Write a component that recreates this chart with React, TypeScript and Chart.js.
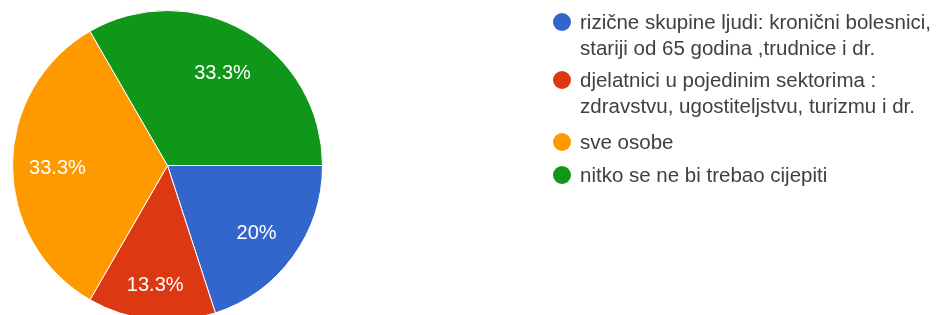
import React, { useEffect, useRef } from "react";
import { Chart, registerables } from "chart.js";

Chart.register(...registerables);

const categories: string[][] = [
  ["rizične skupine ljudi: kronični bolesnici,", "stariji od 65 godina ,trudnice i dr."],
  ["djelatnici u pojedinim sektorima :", "zdravstvu, ugostiteljstvu, turizmu i dr."],
  ["sve osobe"],
  ["nitko se ne bi trebao cijepiti"],
];
const values: number[] = [3, 2, 5, 5];
const sliceLabels: string[] = ["20%", "13.3%", "33.3%", "33.3%"];
const colors: string[] = ["#3366cc", "#dc3912", "#ff9900", "#109618"];

const labelPlugin = {
  id: "sliceLabels",
  afterDatasetsDraw(chart: any) {
    const ctx = chart.ctx;
    const meta = chart.getDatasetMeta(0);
    ctx.save();
    ctx.font = "20px 'Liberation Sans', Arial, sans-serif";
    ctx.fillStyle = "#ffffff";
    ctx.textAlign = "center";
    ctx.textBaseline = "middle";
    meta.data.forEach((arc: any, i: number) => {
      const { x, y, startAngle, endAngle, outerRadius } = arc.getProps(
        ["x", "y", "startAngle", "endAngle", "outerRadius"],
        true
      );
      const mid = (startAngle + endAngle) / 2;
      const frac = endAngle - startAngle < 1 ? 0.76 : 0.71;
      const d = outerRadius * frac;
      ctx.fillText(sliceLabels[i], x + Math.cos(mid) * d, y + Math.sin(mid) * d + 3);
    });
    ctx.restore();
  },
};

const legendPlugin = {
  id: "sideLegend",
  afterDraw(chart: any) {
    const ctx = chart.ctx;
    ctx.save();
    ctx.font = "20.5px 'Liberation Sans', Arial, sans-serif";
    ctx.textBaseline = "middle";
    ctx.textAlign = "left";
    const lineH = 26.5;
    const starts = [22, 80, 142, 175];
    categories.forEach((lines, i) => {
      const y = starts[i];
      ctx.fillStyle = colors[i];
      ctx.beginPath();
      ctx.arc(562, y, 9, 0, Math.PI * 2);
      ctx.fill();
      ctx.fillStyle = "#404040";
      lines.forEach((t, j) => {
        ctx.fillText(t, 580, y + 1 + j * lineH);
      });
    });
    ctx.restore();
  },
};

export default function App() {
  const ref = useRef<HTMLCanvasElement | null>(null);
  useEffect(() => {
    if (!ref.current) return;
    const chart = new Chart(ref.current, {
      type: "pie",
      data: {
        labels: categories.map((c) => c.join(" ")),
        datasets: [
          {
            data: values,
            backgroundColor: colors,
            borderColor: "#ffffff",
            borderWidth: 1,
          },
        ],
      },
      options: {
        animation: false,
        responsive: false,
        rotation: 90,
        layout: { padding: { left: 12, right: 614, top: 10, bottom: 9 } },
        plugins: {
          legend: { display: false },
          tooltip: { enabled: false },
        },
      },
      plugins: [labelPlugin, legendPlugin],
    });
    return () => chart.destroy();
  }, []);
  return (
    <div
      style={{
        position: "fixed",
        left: 0,
        top: 0,
        width: 937,
        height: 315,
        overflow: "hidden",
        background: "#fff",
      }}
    >
      <canvas ref={ref} width={937} height={330} style={{ display: "block" }} />
    </div>
  );
}
